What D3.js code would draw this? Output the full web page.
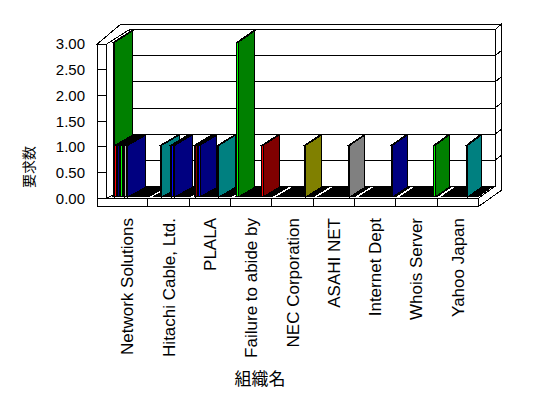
<!DOCTYPE html>
<html>
<head>
<meta charset="utf-8">
<script src="https://cdn.jsdelivr.net/npm/d3@7"></script>
<style>
  body { margin: 0; background: #fff; }
  svg text { font-family: "Liberation Sans", Arial, sans-serif; fill: #000; }
  .jp { font-family: "Noto Sans CJK JP", sans-serif; }
</style>
</head>
<body>
<svg id="chart" width="548" height="398"></svg>
<script>
// categories (組織名)
var categories = ['Network Solutions', 'Hitachi Cable, Ltd.', 'PLALA', 'Failure to abide by',
  'NEC Corporation', 'ASAHI NET', 'Internet Dept', 'Whois Server', 'Yahoo Japan'];

// value axis ticks
var yTicks = [0, 0.5, 1, 1.5, 2, 2.5, 3];

// one row per series, one value per category (要求数)
var seriesValues = [
  [0, 0, 1, 0, 0, 0, 0, 0, 0],
  [3, 0, 0, 3, 0, 0, 0, 0, 0],
  [1, 0, 1, 0, 0, 0, 0, 0, 0],
  [1, 0, 1, 0, 0, 0, 0, 0, 0],
  [0, 0, 0, 0, 0, 0, 0, 0, 0],
  [1, 1, 0, 0, 0, 0, 0, 0, 0],
  [1, 0, 0, 0, 0, 0, 0, 0, 0],
  [0, 0, 0, 0, 0, 0, 0, 0, 0],
  [1, 0, 0, 0, 0, 0, 0, 0, 0],
  [1, 0, 0, 0, 0, 0, 0, 0, 0],
  [1, 0, 0, 0, 0, 0, 0, 0, 0],
  [0, 0, 0, 0, 0, 0, 0, 0, 0],
  [0, 1, 0, 0, 0, 0, 0, 0, 0],
  [0, 1, 0, 0, 0, 0, 0, 0, 0],
  [0, 1, 0, 0, 0, 0, 0, 0, 0],
  [0, 0, 0, 0, 0, 0, 0, 0, 0],
  [0, 0, 1, 0, 0, 0, 0, 0, 0],
  [0, 0, 0, 0, 0, 0, 0, 0, 1],
  [0, 0, 0, 1, 0, 0, 0, 0, 0],
  [0, 0, 0, 0, 1, 0, 0, 0, 0],
  [0, 0, 0, 0, 0, 0, 0, 0, 0],
  [0, 0, 0, 0, 0, 1, 0, 0, 0],
  [0, 0, 0, 0, 0, 0, 1, 0, 0],
  [0, 0, 0, 0, 0, 0, 0, 1, 0],
  [0, 0, 0, 0, 0, 0, 0, 0, 0]
];

// series colours (side faces); front faces use the bright twin
var seriesColors = ['#800000', '#008000', '#800000', '#000080', '#800080', '#008080', '#008000',
  '#808000', '#800080', '#808080', '#000080', '#808000', '#008080', '#000080', '#000080',
  '#808000', '#008080', '#008080', '#800000', '#808000', '#800080', '#808080', '#000080',
  '#008000', '#008080'];
var brightOf = {
  '#000080': '#0000ff', '#008000': '#00ff00', '#008080': '#00ffff', '#800000': '#ff0000',
  '#800080': '#ff00ff', '#808000': '#ffff00', '#808080': '#c0c0c0'
};

var svg = d3.select('#chart');

// front plane and back plane of the box
var X0 = 106.7, X1 = 478.3;
var x = d3.scaleBand().domain(categories).range([X0, X1]);
var yF = d3.scaleLinear().domain([0, 3]).range([198.3, 44]);
var yB = d3.scaleLinear().domain([0, 3]).range([186.3, 29.7]);
var xB = d3.scaleLinear().domain([X0, X1]).range([129.3, 495]);

// depth z: 0 = front, 1 = back wall
function P(px, v, z) {
  var fy = yF(v), by = yB(v), bx = xB(px);
  return [px + (bx - px) * z, fy + (by - fy) * z];
}
function poly(pts) {
  return 'M' + pts.map(function (p) { return p[0].toFixed(2) + ',' + p[1].toFixed(2); }).join('L') + 'Z';
}
function seg(a, b) {
  return 'M' + a[0].toFixed(2) + ',' + a[1].toFixed(2) + 'L' + b[0].toFixed(2) + ',' + b[1].toFixed(2);
}

var XW = X0 - 9.4;     // outer face of left wall
var FV = -0.163;       // floor thickness (value units)
var ZT = 1.38;         // back of back wall
var vMax = 3;

var frame = svg.append('g')
  .attr('fill', '#fff').attr('stroke', '#000').attr('stroke-width', 1)
  .attr('shape-rendering', 'crispEdges');

// back wall
frame.append('path').attr('d', poly([P(X0, 0, 1), P(X1, 0, 1), P(X1, vMax, 1), P(X0, vMax, 1)]));
frame.selectAll('.grid').data(yTicks.slice(1)).join('path')
  .attr('class', 'grid')
  .attr('d', function (d) { return seg(P(X0, d, 1), P(X1, d, 1)); });

// top of the walls
var backTopRight = P(X1, vMax, ZT);
var backTopLeft = [P(XW, vMax, 1)[0] + 0.6, backTopRight[1]];
frame.append('path').attr('d', poly([P(XW, vMax, 0), P(X0, vMax, 0), P(X0, vMax, 1), P(X1, vMax, 1), backTopRight, backTopLeft]));

// right side of floor + back wall
frame.append('path').attr('d', poly([P(X1, FV, 0), P(X1, 0, 0), P(X1, 0, 1), P(X1, vMax, 1), P(X1, vMax, ZT), P(X1, FV, ZT)]));
frame.selectAll('.gridside').data(yTicks.slice(1)).join('path')
  .attr('class', 'gridside')
  .attr('d', function (d) { return seg(P(X1, d, 1), P(X1, d, ZT)); });

// left wall inner face and floor
frame.append('path').attr('d', poly([P(X0, 0, 0), P(X0, 0, 1), P(X0, vMax, 1), P(X0, vMax, 0)]));
frame.append('path').attr('d', poly([P(X0, 0, 0), P(X1, 0, 0), P(X1, 0, 1), P(X0, 0, 1)]));

// bars
var N = seriesValues.length;
var pad = 2.4;
var bw = (x.bandwidth() - 2 * pad) / N;
var zf = 0.12, zb = 0.92;

var bars = [];
categories.forEach(function (c, i) {
  seriesValues.forEach(function (row, k) {
    bars.push({ cat: c, k: k, v: row[i] });
  });
});

var barG = svg.append('g').attr('stroke', '#000').attr('stroke-width', 1)
  .attr('shape-rendering', 'crispEdges');

var g = barG.selectAll('g').data(bars).join('g');
g.append('path')
  .attr('fill', function (d) { return brightOf[seriesColors[d.k]]; })
  .attr('d', function (d) {
    var xl = x(d.cat) + pad + d.k * bw, xr = xl + bw;
    return poly([P(xl, 0, zf), P(xr, 0, zf), P(xr, d.v, zf), P(xl, d.v, zf)]);
  });
g.append('path')
  .attr('fill', function (d) { return seriesColors[d.k]; })
  .attr('d', function (d) {
    var xr = x(d.cat) + pad + (d.k + 1) * bw;
    return poly([P(xr, 0, zf), P(xr, 0, zb), P(xr, d.v, zb), P(xr, d.v, zf)]);
  });
g.append('path')
  .attr('fill', function (d) { return seriesColors[d.k]; })
  .attr('d', function (d) {
    var xl = x(d.cat) + pad + d.k * bw, xr = xl + bw;
    return poly([P(xl, d.v, zf), P(xr, d.v, zf), P(xr, d.v, zb), P(xl, d.v, zb)]);
  });

// front of floor and left wall
var front = svg.append('g')
  .attr('fill', '#fff').attr('stroke', '#000').attr('stroke-width', 1)
  .attr('shape-rendering', 'crispEdges');
front.append('path').attr('d', poly([P(XW, FV, 0), P(X1, FV, 0), P(X1, 0, 0), P(X0, 0, 0), P(X0, vMax, 0), P(XW, vMax, 0)]));
front.selectAll('.ytick').data(yTicks).join('path')
  .attr('d', function (d) { return seg(P(XW, d, 0), P(X0, d, 0)); });
front.selectAll('.xtick').data(categories.slice(1)).join('path')
  .attr('d', function (d) { return seg(P(x(d), 0, 0), P(x(d), FV, 0)); });

// value labels
svg.selectAll('.ylab').data(yTicks).join('text')
  .attr('x', 85)
  .attr('y', function (d) { return yF(d); })
  .attr('dy', '0.36em')
  .attr('text-anchor', 'end')
  .style('font-size', '15px')
  .text(function (d) { return d.toFixed(2); });

// category labels
svg.selectAll('.xlab').data(categories).join('text')
  .attr('transform', function (d) { return 'translate(' + (x(d) + x.bandwidth() / 2 + 6) + ',218) rotate(-90)'; })
  .attr('text-anchor', 'end')
  .style('font-size', '17px')
  .text(function (d) { return d; });

// axis titles
svg.append('text').attr('class', 'jp')
  .attr('x', 260).attr('y', 385)
  .attr('text-anchor', 'middle')
  .style('font-size', '17px')
  .text('組織名');
svg.append('text').attr('class', 'jp')
  .attr('transform', 'translate(34,167) rotate(-90)')
  .attr('text-anchor', 'middle')
  .style('font-size', '14px')
  .text('要求数');
</script>
</body>
</html>
